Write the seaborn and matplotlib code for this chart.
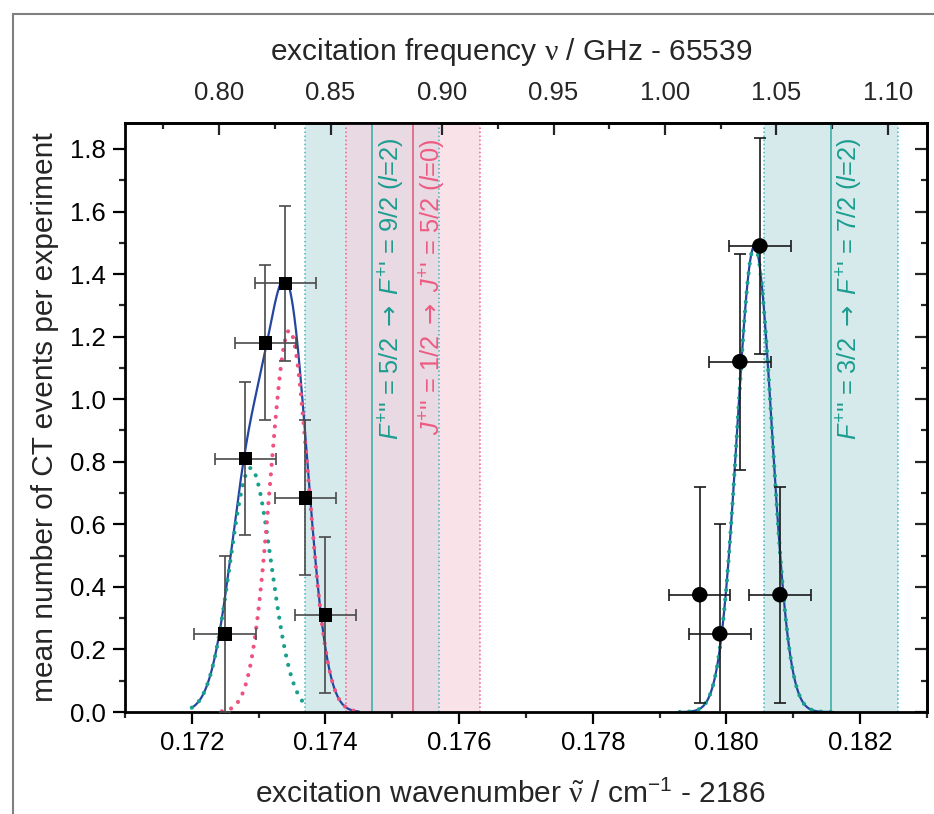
import numpy as np
import pandas as pd
import matplotlib
matplotlib.use("Agg")
import matplotlib.pyplot as plt
import matplotlib.patches as mpatches
from matplotlib.ticker import MultipleLocator, FixedLocator, FormatStrFormatter
import seaborn as sns

# measured points: wavenumber offset (cm^-1 - 2186) and mean CT events
sq_x = [0.1725, 0.1728, 0.1731, 0.1734, 0.1737, 0.1740]
sq_y = [0.25, 0.81, 1.18, 1.37, 0.685, 0.31]
sq_yerr = [0.25, 0.245, 0.248, 0.247, 0.247, 0.248]

circ_x = [0.1796, 0.1799, 0.1802, 0.1805, 0.1808]
circ_y = [0.375, 0.25, 1.12, 1.49, 0.375]
circ_yerr = [0.345, 0.35, 0.345, 0.345, 0.345]

x_err = 0.00046

# gaussian fit components (left pair sums to the blue fit on the left)
fit_center = [0.17288, 0.17346, 0.18042]
fit_amp = [0.78, 1.22, 1.49]
fit_sigma = [0.00031, 0.000285, 0.00026]
fit_start = [0.1720, 0.17245, 0.1793]
fit_stop = [0.17375, 0.1745, 0.1816]
fit_color = ["#17a08e", "#f0527f", "#17a08e"]

# calculated transitions
trans_pos = [0.1747, 0.17531, 0.18156]
trans_half = 0.001
trans_labels = [
    r"$F^{+}$'' = 5/2 $\mathsf{\rightarrow}$ $F^{+}$' = 9/2 ($l$=2)",
    r"$J^{+}$'' = 1/2 $\mathsf{\rightarrow}$ $J^{+}$' = 5/2 ($l$=0)",
    r"$F^{+}$'' = 3/2 $\mathsf{\rightarrow}$ $F^{+}$' = 7/2 ($l$=2)",
]
trans_kind = ["hfs", "fs", "hfs"]

kind_fill = {"hfs": "#d6eaec", "fs": "#fae2e9"}
kind_edge = {"hfs": "#3fb6bf", "fs": "#f1608a"}
kind_line = {"hfs": "#3cb1aa", "fs": "#e0607e"}
kind_text = {"hfs": "#1c9d90", "fs": "#ee5b82"}
overlap_fill = "#e9d9e3"

blue = "#2446a0"

freq_ticks = [0.80, 0.85, 0.90, 0.95, 1.00, 1.05, 1.10]


def to_ghz(x):
    return (2186 + x) * 29.9792458 - 65539


def from_ghz(f):
    return (f + 65539) / 29.9792458 - 2186


sns.set_theme(style="ticks")
plt.rcParams["font.family"] = ["Liberation Sans", "DejaVu Sans"]
plt.rcParams["mathtext.fontset"] = "custom"
plt.rcParams["mathtext.rm"] = "Liberation Sans"
plt.rcParams["mathtext.it"] = "Liberation Sans:italic"
plt.rcParams["mathtext.bf"] = "Liberation Serif"
plt.rcParams["mathtext.sf"] = "DejaVu Sans"

fig = plt.figure(figsize=(9.34, 8.14), dpi=100)
ax = fig.add_axes([0.1338, 0.1253, 0.8587, 0.7236])

# shaded transition bands
for pos, kind in zip(trans_pos, trans_kind):
    ax.axvspan(pos - trans_half, pos + trans_half, color=kind_fill[kind], lw=0, zorder=0)
lo = max(trans_pos[0], trans_pos[1]) - trans_half
hi = min(trans_pos[0], trans_pos[1]) + trans_half
ax.axvspan(lo, hi, color=overlap_fill, lw=0, zorder=0.1)
for pos, kind in zip(trans_pos, trans_kind):
    for edge in (pos - trans_half, pos + trans_half):
        ax.axvline(edge, color=kind_edge[kind], ls=":", lw=1.1, zorder=0.5)
    ax.axvline(pos, color=kind_line[kind], lw=1.2, zorder=0.6)

for pos, lab, kind in zip(trans_pos, trans_labels, trans_kind):
    ax.text(pos + 0.00029, 1.835, lab, rotation=90, ha="center", va="top",
            fontsize=18.3, color=kind_text[kind], zorder=3)

# fit curves
comps = []
for c, a, s, x0, x1 in zip(fit_center, fit_amp, fit_sigma, fit_start, fit_stop):
    xs = np.linspace(x0, x1, 300)
    comps.append(pd.DataFrame({"x": xs, "y": a * np.exp(-(xs - c) ** 2 / (2 * s ** 2))}))

xl = np.linspace(fit_start[0], fit_stop[1], 400)
yl = sum(a * np.exp(-(xl - c) ** 2 / (2 * s ** 2))
         for c, a, s in zip(fit_center[:2], fit_amp[:2], fit_sigma[:2]))
sns.lineplot(x=xl, y=yl, color=blue, lw=1.6, ax=ax, zorder=2)
sns.lineplot(data=comps[2], x="x", y="y", color=blue, lw=1.6, ax=ax, zorder=2)

for df, col in zip(comps, fit_color):
    ax.plot(df["x"], df["y"], color=col, lw=3.0, ls=(0, (0.01, 2.3)),
            dash_capstyle="round", zorder=2.5)

# data with error bars
ax.errorbar(sq_x, sq_y, xerr=x_err, yerr=sq_yerr, fmt="none", ecolor="#4a4a4a",
            elinewidth=1.2, capsize=4.5, capthick=1.2, zorder=4)
ax.errorbar(circ_x, circ_y, xerr=x_err, yerr=circ_yerr, fmt="none", ecolor="#1a1a1a",
            elinewidth=1.2, capsize=4.5, capthick=1.2, zorder=4)
sns.scatterplot(x=sq_x, y=sq_y, marker="s", s=95, color="black", edgecolor="none",
                ax=ax, zorder=5)
sns.scatterplot(x=circ_x, y=circ_y, marker="o", s=125, color="black", edgecolor="none",
                ax=ax, zorder=5)

ax.set_xlim(0.171, 0.183)
ax.set_ylim(0, 1.883)
ax.xaxis.set_major_locator(MultipleLocator(0.002))
ax.xaxis.set_minor_locator(MultipleLocator(0.001))
ax.yaxis.set_major_locator(MultipleLocator(0.2))
ax.yaxis.set_minor_locator(MultipleLocator(0.1))
ax.xaxis.set_major_formatter(FormatStrFormatter("%.3f"))
ax.yaxis.set_major_formatter(FormatStrFormatter("%.1f"))

for sp in ax.spines.values():
    sp.set_linewidth(2)
    sp.set_color("black")
ax.tick_params(which="major", direction="out", length=8.6, width=1.6,
               labelsize=18.5, pad=5, colors="black")
ax.tick_params(which="minor", direction="out", length=4.5, width=1.6)

ax.set_xlabel(r"excitation wavenumber $\tilde{\mathbf{\nu}}$ / cm$^{-1}$ - 2186",
              fontsize=21.5, labelpad=18)
ax.xaxis.label.set_x(0.481)
ax.set_ylabel("mean number of CT events per experiment", fontsize=21.5, labelpad=8)

top = ax.secondary_xaxis("top", functions=(to_ghz, from_ghz))
top.xaxis.set_major_locator(FixedLocator(freq_ticks))
top.xaxis.set_minor_locator(MultipleLocator(0.025))
top.xaxis.set_major_formatter(FormatStrFormatter("%.2f"))
top.tick_params(which="major", direction="in", length=8.6, width=1.6,
                labelsize=18.5, pad=13)
top.tick_params(which="minor", direction="in", length=4.5, width=1.6)
top.spines["top"].set_linewidth(2)
top.set_xlabel(r"excitation frequency $\mathbf{\nu}$ / GHz - 65539", fontsize=21.5, labelpad=15)
top.xaxis.label.set_x(0.481)

right = ax.secondary_yaxis("right")
right.yaxis.set_major_locator(MultipleLocator(0.2))
right.yaxis.set_minor_locator(MultipleLocator(0.1))
right.tick_params(which="major", direction="in", length=8.6, width=1.6, labelright=False)
right.tick_params(which="minor", direction="in", length=4.5, width=1.6)
right.spines["right"].set_linewidth(2)

# grey frame of the original figure
fig.patches.append(mpatches.Rectangle((13 / 934, -0.1), 1.2, 0.1 + 1 - 14 / 814,
                                      transform=fig.transFigure, fill=False,
                                      edgecolor="#7f7f7f", lw=1.5))

fig.savefig("out.png", dpi=100)
